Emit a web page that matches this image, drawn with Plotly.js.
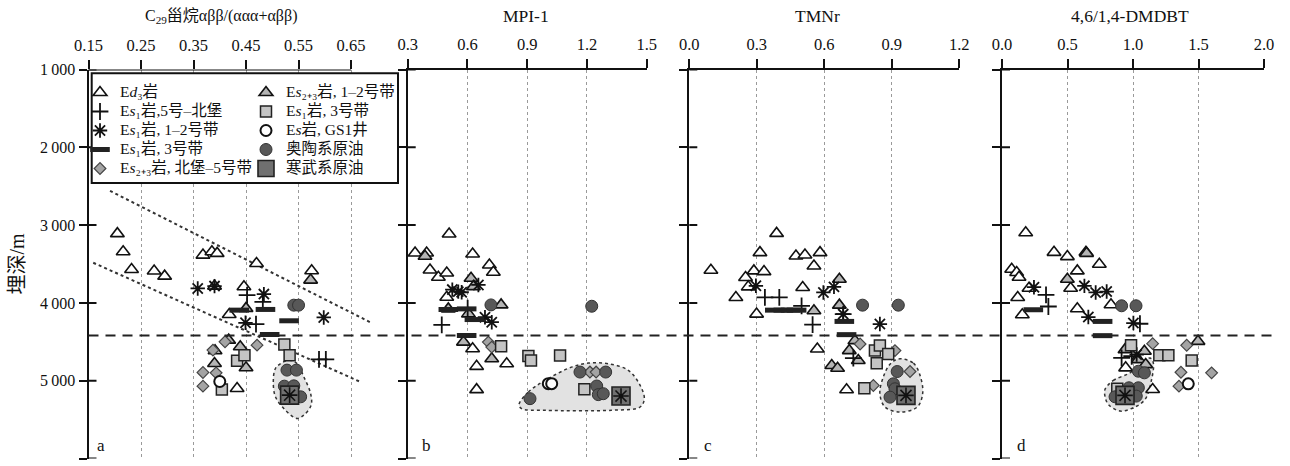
<!DOCTYPE html>
<html><head><meta charset="utf-8">
<script src="https://cdn.plot.ly/plotly-3.0.1.min.js"></script>
<style>html,body{margin:0;padding:0;background:#fff}#chart{width:1290px;height:466px}</style>
</head><body><div id="chart"></div>
<script>
// ---------- axis ticks ----------
const depthTicks = [1000, 2000, 3000, 4000, 5000, 6000];
const depthTickText = ["1\u2009000", "2\u2009000", "3\u2009000", "4\u2009000", "5\u2009000", "6\u2009000"];
const ticksA = [0.15, 0.25, 0.35, 0.45, 0.55, 0.65];
const ticksB = [0.3, 0.6, 0.9, 1.2, 1.5];
const ticksC = [0.0, 0.3, 0.6, 0.9, 1.2];
const ticksD = [0.0, 0.5, 1.0, 1.5, 2.0];
const boundaryDepth = 4420;

// ---------- panel a: C29 steranes abb/(aaa+abb) ----------
const a_ed3_x = [0.205,0.216,0.232,0.275,0.295,0.368,0.385,0.395,0.470,0.575,0.418,0.446,0.433];
const a_ed3_d = [3110,3343,3570,3590,3656,3386,3343,3364,3493,3587,4149,3793,5100];
const a_es23b_x = [0.573,0.450,0.417,0.391,0.439,0.390,0.450,0.390];
const a_es23b_d = [3707,4071,4479,4616,4564,4779,4834,3784];
const a_plus_x = [0.452,0.469,0.589,0.602,0.482];
const a_plus_d = [3900,4273,4727,4727,3986];
const a_star_x = [0.358,0.390,0.484,0.449,0.598];
const a_star_d = [3814,3784,3887,4256,4187];
const a_dash_x = [0.437,0.487,0.532,0.495];
const a_dash_d = [4093,4084,4230,4406];
const a_dia_x = [0.387,0.410,0.471,0.368,0.393,0.368];
const a_dia_d = [4607,4500,4543,4894,4899,5070];
const a_sq_x = [0.523,0.533,0.433,0.447,0.404];
const a_sq_d = [4534,4672,4744,4672,5113];
const a_oc_x = [0.400];
const a_oc_d = [5010];
const a_ord_x = [0.541,0.550,0.528,0.546,0.523,0.541,0.554];
const a_ord_d = [4029,4029,4864,4864,5070,5066,5207];
const a_cam_x = [0.533];
const a_cam_d = [5186];
const a_env_x = [0.516,0.532,0.547,0.560,0.573,0.574,0.560,0.547,0.525,0.506,0.502,0.506,0.516];
const a_env_d = [4779,4736,4779,4950,5165,5315,5443,5486,5379,5207,4993,4843,4779];
const a_upper_x = [0.191, 0.689];
const a_upper_d = [2560, 4257];
const a_lower_x = [0.159, 0.667];
const a_lower_d = [3484, 5013];

// ---------- panel b: MPI-1 ----------
const b_ed3_x = [0.508,0.337,0.395,0.412,0.454,0.496,0.626,0.710,0.730,0.496,0.626,0.646,0.646,0.797];
const b_ed3_d = [3115,3359,3359,3577,3671,3615,3372,3513,3607,3927,4590,4816,5115,4782];
const b_es23b_x = [0.387,0.618,0.630,0.769,0.580,0.722,0.605,0.504];
const b_es23b_d = [3400,3684,3791,4026,4504,4718,4141,4077];
const b_plus_x = [0.471,0.601];
const b_plus_d = [4282,4068];
const b_star_x = [0.524,0.554,0.571,0.655,0.688,0.722];
const b_star_d = [3829,3855,3863,3769,4184,4248];
const b_dash_x = [0.504,0.596,0.635,0.596];
const b_dash_d = [4085,4077,4214,4419];
const b_dia_x = [0.705,0.722,1.215,1.246];
const b_dia_d = [4504,4568,4889,4889];
const b_sq_x = [0.769,0.906,0.919,1.065,1.187];
const b_sq_d = [4556,4684,4739,4675,5111];
const b_oc_x = [1.006,1.023];
const b_oc_d = [5038,5038];
const b_ord_x = [0.718,1.224,0.914,1.165,1.294,1.249,1.257,1.282];
const b_ord_d = [4026,4043,5231,4889,4889,5068,5179,5167];
const b_cam_x = [1.371];
const b_cam_d = [5197];
const b_env_x = [0.859,0.906,0.990,1.123,1.207,1.308,1.408,1.467,1.488,1.467,1.324,0.990,0.872,0.859];
const b_env_d = [5308,5145,4996,4825,4774,4782,4868,5060,5231,5338,5380,5380,5359,5308];

// ---------- panel c: TMNr ----------
const c_ed3_x = [0.096,0.388,0.314,0.287,0.332,0.250,0.262,0.207,0.299,0.474,0.514,0.581,0.554,0.504,0.569,0.699];
const c_ed3_d = [3580,3107,3354,3589,3598,3674,3794,3930,4144,3397,3384,3354,3525,3802,4592,5117];
const c_es23b_x = [0.667,0.554,0.667,0.736,0.711,0.751,0.633,0.659];
const c_es23b_d = [3696,4101,4029,4485,4613,4741,4805,4840];
const c_plus_x = [0.336,0.400,0.499,0.548,0.729,0.684];
const c_plus_d = [3930,3930,4037,4280,4711,4144];
const c_star_x = [0.296,0.596,0.643,0.684,0.847];
const c_star_d = [3780,3866,3794,4144,4272];
const c_dash_x = [0.380,0.418,0.450,0.477,0.689,0.699];
const c_dash_d = [4093,4093,4093,4093,4238,4408];
const c_dia_x = [0.759,0.914,0.981,0.818];
const c_dia_d = [4528,4613,4882,5061];
const c_sq_x = [0.825,0.847,0.884,0.833,0.778];
const c_sq_d = [4613,4549,4656,4775,5096];
const c_ord_x = [0.770,0.929,0.924,0.907,0.914,0.892];
const c_ord_d = [4029,4029,4882,5040,5104,5211];
const c_cam_x = [0.963];
const c_cam_d = [5189];
const c_env_x = [0.929,0.996,1.028,1.037,1.013,0.936,0.870,0.847,0.862,0.892,0.929];
const c_env_d = [4720,4775,4955,5168,5339,5403,5339,5168,4955,4789,4720];

// ---------- panel d: 4,6/1,4-DMDBT ----------
const d_ed3_x = [0.181,0.397,0.499,0.641,0.743,0.575,0.074,0.112,0.130,0.206,0.120,0.155,0.524,0.575,0.832,0.944,1.150];
const d_ed3_d = [3098,3350,3405,3350,3504,3589,3568,3610,3670,3811,3930,4152,3811,4076,4024,4835,5113];
const d_es23b_x = [0.646,0.499,1.496,0.939,1.087,1.041,1.097];
const d_es23b_d = [3363,3696,4494,4601,4622,4729,4793];
const d_plus_x = [0.336,0.354,1.053,0.913,0.990];
const d_plus_d = [3896,4046,4268,4707,4686];
const d_star_x = [0.244,0.629,0.715,0.799,0.659,1.003,1.028];
const d_star_d = [3798,3781,3866,3854,4182,4259,4664];
const d_dash_x = [0.239,0.768,0.768];
const d_dash_d = [4088,4238,4421];
const d_dia_x = [1.150,1.410,1.366,1.600,1.351];
const d_dia_d = [4524,4545,4891,4899,5070];
const d_sq_x = [0.985,1.201,1.270,1.448,0.880];
const d_sq_d = [4545,4673,4673,4741,5104];
const d_oc_x = [1.422];
const d_oc_d = [5040];
const d_ord_x = [0.913,1.023,1.041,1.087,0.969,1.041,0.863,1.025];
const d_ord_d = [4037,4037,4878,4899,5091,5091,5207,5198];
const d_cam_x = [0.939];
const d_cam_d = [5189];
const d_env_x = [0.786,0.850,0.977,1.079,1.130,1.155,1.142,1.092,1.003,0.901,0.812,0.786,0.786];
const d_env_d = [5113,4997,4899,4771,4707,4771,4985,5241,5347,5390,5305,5198,5113];

// ---------- series names ----------
const names = {
  ed3: "E<i>d</i>\u2083岩",
  plus: "E<i>s</i>\u2081岩,5号–北堡",
  star: "E<i>s</i>\u2081岩, 1–2号带",
  dash: "E<i>s</i>\u2081岩, 3号带",
  dia: "E<i>s</i>\u2082\u208A\u2083岩, 北堡–5号带",
  es23b: "E<i>s</i>\u2082\u208A\u2083岩, 1–2号带",
  sq: "E<i>s</i>\u2081岩, 3号带",
  oc: "E<i>s</i>岩, GS1井",
  ord: "奥陶系原油",
  cam: "寒武系原油"
};
const panelTitles = ["C<sub>29</sub>甾烷αββ/(ααα+αββ)", "MPI-1", "TMNr", "4,6/1,4-DMDBT"];
const panelLetters = ["a", "b", "c", "d"];

// ---------- styles ----------
const FONT = "'Liberation Serif', 'Noto Sans CJK SC', serif";
const styles = {
  ed3:  {legend:"legend",  marker:{symbol:"triangle-up", size:12, color:"#ffffff", line:{color:"#111", width:1.6}}},
  plus: {legend:"legend",  marker:{symbol:"cross-thin-open", size:12, color:"#111", line:{color:"#111", width:1.8}}},
  star: {legend:"legend",  marker:{symbol:"asterisk-open", size:12, color:"#111", line:{color:"#111", width:1.8}}},
  dash: {legend:"legend",  marker:{symbol:"line-ew-open", size:14, color:"#222", line:{color:"#222", width:5}}},
  dia:  {legend:"legend",  marker:{symbol:"diamond", size:9, color:"#a4a4a4", line:{color:"#444", width:1.2}}},
  es23b:{legend:"legend2", marker:{symbol:"triangle-up", size:12, color:"#b4b4b4", line:{color:"#111", width:1.6}}},
  sq:   {legend:"legend2", marker:{symbol:"square", size:11, color:"#c4c4c4", line:{color:"#222", width:1.5}}},
  oc:   {legend:"legend2", marker:{symbol:"circle", size:11, color:"#ffffff", line:{color:"#111", width:2}}},
  ord:  {legend:"legend2", marker:{symbol:"circle", size:12, color:"#585858", line:{color:"#333", width:1}}},
  cam:  {legend:"legend2", marker:{symbol:"square", size:18, color:"#707070", line:{color:"#222", width:1.6}}}
};

const panels = [
  {xa:"x",  ya:"y",  s:{ed3:[a_ed3_x,a_ed3_d], es23b:[a_es23b_x,a_es23b_d], plus:[a_plus_x,a_plus_d], star:[a_star_x,a_star_d], dash:[a_dash_x,a_dash_d], dia:[a_dia_x,a_dia_d], sq:[a_sq_x,a_sq_d], oc:[a_oc_x,a_oc_d], ord:[a_ord_x,a_ord_d], cam:[a_cam_x,a_cam_d]}, env:[a_env_x,a_env_d]},
  {xa:"x2", ya:"y2", s:{ed3:[b_ed3_x,b_ed3_d], es23b:[b_es23b_x,b_es23b_d], plus:[b_plus_x,b_plus_d], star:[b_star_x,b_star_d], dash:[b_dash_x,b_dash_d], dia:[b_dia_x,b_dia_d], sq:[b_sq_x,b_sq_d], oc:[b_oc_x,b_oc_d], ord:[b_ord_x,b_ord_d], cam:[b_cam_x,b_cam_d]}, env:[b_env_x,b_env_d]},
  {xa:"x3", ya:"y3", s:{ed3:[c_ed3_x,c_ed3_d], es23b:[c_es23b_x,c_es23b_d], plus:[c_plus_x,c_plus_d], star:[c_star_x,c_star_d], dash:[c_dash_x,c_dash_d], dia:[c_dia_x,c_dia_d], sq:[c_sq_x,c_sq_d], oc:[[],[]], ord:[c_ord_x,c_ord_d], cam:[c_cam_x,c_cam_d]}, env:[c_env_x,c_env_d]},
  {xa:"x4", ya:"y4", s:{ed3:[d_ed3_x,d_ed3_d], es23b:[d_es23b_x,d_es23b_d], plus:[d_plus_x,d_plus_d], star:[d_star_x,d_star_d], dash:[d_dash_x,d_dash_d], dia:[d_dia_x,d_dia_d], sq:[d_sq_x,d_sq_d], oc:[d_oc_x,d_oc_d], ord:[d_ord_x,d_ord_d], cam:[d_cam_x,d_cam_d]}, env:[d_env_x,d_env_d]}
];

const drawOrder = ["ed3","es23b","plus","star","dash","dia","sq","oc","ord","cam"];
const legendOrder1 = ["ed3","plus","star","dash","dia"];
const legendOrder2 = ["es23b","sq","oc","ord","cam"];
const LEGEND_TEXT_PX = 15.5;

const traces = [];
panels.forEach(p => {
  traces.push({type:"scatter", mode:"lines", x:p.env[0], y:p.env[1], xaxis:p.xa, yaxis:p.ya,
    fill:"toself", fillcolor:"#e2e2e2", line:{color:"#333", width:1.5, dash:"dot", shape:"spline", smoothing:1},
    showlegend:false, hoverinfo:"skip"});
});
[[a_upper_x,a_upper_d],[a_lower_x,a_lower_d]].forEach(l => {
  traces.push({type:"scatter", mode:"lines", x:l[0], y:l[1], xaxis:"x", yaxis:"y",
    line:{color:"#333", width:2, dash:"dot"}, showlegend:false, hoverinfo:"skip"});
});
drawOrder.forEach(key => {
  panels.forEach((p, i) => {
    const st = styles[key];
    traces.push({type:"scatter", mode:"markers",
      name:'<span style="font-size:' + LEGEND_TEXT_PX + 'px">' + names[key] + '</span>',
      legendgroup:key, legend:st.legend,
      legendrank: (st.legend==="legend" ? legendOrder1 : legendOrder2).indexOf(key) + 1,
      showlegend: i === 0, x:p.s[key][0], y:p.s[key][1], xaxis:p.xa, yaxis:p.ya,
      marker: st.marker, cliponaxis:false});
    if (key === "cam") {
      traces.push({type:"scatter", mode:"markers", legendgroup:key, showlegend:false,
        x:p.s[key][0], y:p.s[key][1], xaxis:p.xa, yaxis:p.ya, cliponaxis:false,
        marker:{symbol:"asterisk-open", size:13, color:"#111", line:{color:"#111", width:1.6}}});
    }
  });
});

// ---------- layout ----------
const W = 1290, H = 466;
const px = v => v / W, py = v => 1 - v / H;
const yDomain = [py(458.5), py(69.5)];
const xDomains = [[px(88.5), px(377.3)], [px(407.7), px(646.7)], [px(689.3), px(959.3)], [px(1002), px(1264)]];
const xRanges = [[0.15, 0.70], [0.3, 1.5], [0, 1.2], [0, 2]];
const xTicks = [ticksA, ticksB, ticksC, ticksD];
const xDecimals = [2, 1, 1, 1];

// legend font size controls the row pitch (~19 px); the visible text size is set in the names
const legendCommon = {xanchor:"left", yanchor:"top", bgcolor:"rgba(0,0,0,0)", borderwidth:0,
  font:{family:FONT, size:12, color:"#111"}, tracegroupgap:0, itemwidth:30, traceorder:"normal"};

const layout = {
  width: W, height: H, margin:{l:0, r:0, t:0, b:0},
  paper_bgcolor:"#fff", plot_bgcolor:"rgba(0,0,0,0)",
  font:{family:FONT, size:15, color:"#111"},
  showlegend:true,
  legend:Object.assign({x:px(80), y:py(78)}, legendCommon),
  legend2:Object.assign({x:px(246), y:py(78)}, legendCommon),
  shapes:[], annotations:[]
};

for (let i = 0; i < 4; i++) {
  const xn = i === 0 ? "xaxis" : "xaxis" + (i+1);
  const yn = i === 0 ? "yaxis" : "yaxis" + (i+1);
  const xa = i === 0 ? "x" : "x" + (i+1);
  const ya = i === 0 ? "y" : "y" + (i+1);
  layout[xn] = {domain:xDomains[i], range:xRanges[i], anchor:ya, side:"top",
    showline: i !== 0, linecolor:"#111", linewidth:2, ticks:"outside", ticklen:9, tickwidth:2, tickcolor:"#111",
    tickmode:"array", tickvals:xTicks[i], ticktext:xTicks[i].map(v => v.toFixed(xDecimals[i])),
    ticklabelstandoff:2, tickfont:{family:FONT, size:16.5, color:"#111"},
    showgrid:true, gridcolor:"#9a9a9a", gridwidth:1, griddash:"dot", zeroline:false, fixedrange:true};
  layout[yn] = {domain:yDomain, range:[6000, 1000], anchor:xa,
    showline:true, linecolor:"#111", linewidth:2, ticks:"outside", ticklen:8, tickwidth:2, tickcolor:"#111",
    tickmode:"array", tickvals:depthTicks, ticktext:depthTickText, showticklabels: i === 0,
    tickfont:{family:FONT, size:16, color:"#111"}, showgrid:false, zeroline:false, fixedrange:true};
  depthTicks.forEach(v => {
    layout.shapes.push({type:"line", xref: xa + " domain", xsizemode:"pixel", xanchor:0, x0:0, x1:8,
      yref:"y", y0:v, y1:v, line:{color:"#111", width:2}, layer:"above"});
  });
  layout.annotations.push({text:panelTitles[i], xref:"paper", yref:"paper",
    x: px([221, 526, 818, 1130][i]), y: py(16), xanchor:"center", yanchor:"middle", showarrow:false,
    font:{family:FONT, size:[16, 17.5, 17.5, 17.5][i], color:"#111"}});
  layout.annotations.push({text:panelLetters[i], xref:"paper", yref:"paper",
    x: px([101, 426, 708, 1021][i]), y: py(445), xanchor:"center", yanchor:"middle", showarrow:false,
    font:{family:FONT, size:17, color:"#111"}});
}
layout.yaxis.title = {text:"埋深/m", font:{family:FONT, size:20, color:"#111"}, standoff:10};

layout.shapes.push({type:"line", xref:"x", yref:"y", x0:ticksA[0], x1:ticksA[ticksA.length-1], y0:1000, y1:1000,
  line:{color:"#111", width:2}, layer:"above"});
layout.shapes.push({type:"line", xref:"paper", yref:"y", x0:px(88.5), x1:px(1272), y0:boundaryDepth, y1:boundaryDepth,
  line:{color:"#222", width:2, dash:"10px,7px"}, layer:"above"});
layout.shapes.push({type:"rect", xref:"paper", yref:"paper", x0:px(91.7), x1:px(398), y0:py(183), y1:py(73.3),
  line:{color:"#111", width:2}, fillcolor:"#fff", layer:"above"});

Plotly.newPlot("chart", traces, layout, {staticPlot:true});
</script></body></html>
